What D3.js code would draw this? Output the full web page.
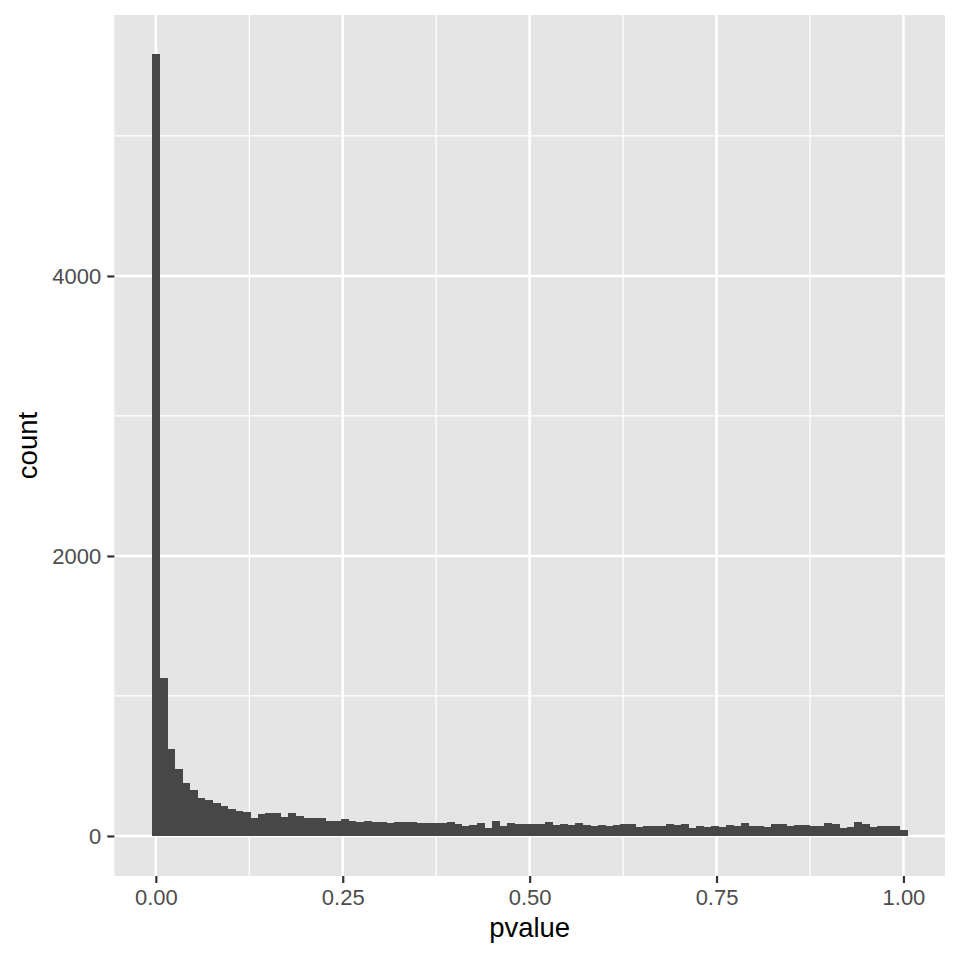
<!DOCTYPE html>
<html>
<head>
<meta charset="utf-8">
<script src="https://cdn.jsdelivr.net/npm/d3@7"></script>
<style>
  body { margin: 0; background: #fff; }
  svg { display: block; }
</style>
</head>
<body>
<svg id="chart" width="960" height="960"></svg>
<script>
// histogram counts, 100 bins of width 1/99 centred on 0 .. 1
const counts = [
  5586, 1129, 621, 479, 379, 329, 271, 257, 236, 214,
  193, 179, 171, 129, 157, 164, 164, 136, 164, 143,
  129, 129, 129, 107, 107, 121, 107, 100, 107, 100,
  100, 93, 100, 100, 100, 93, 93, 93, 93, 100,
  86, 71, 79, 93, 57, 107, 71, 93, 86, 86,
  86, 86, 100, 79, 86, 79, 93, 79, 71, 79,
  71, 79, 86, 86, 64, 71, 71, 71, 86, 79,
  86, 57, 71, 64, 71, 64, 79, 71, 93, 71,
  71, 64, 86, 86, 71, 79, 79, 71, 71, 93,
  86, 57, 64, 100, 86, 64, 71, 71, 71, 43
];
const binWidth = 1 / 99;
const xTicks = [0, 0.25, 0.5, 0.75, 1];
const xMinor = [0.125, 0.375, 0.625, 0.875];
const yTicks = [0, 2000, 4000];
const yMinor = [1000, 3000, 5000];
const xLabel = "pvalue";
const yLabel = "count";

const panel = { left: 114.3, right: 945, top: 15, bottom: 876 };

const svg = d3.select("#chart");

const x = d3.scaleLinear()
    .domain([-0.0556, 1.0556])
    .range([panel.left, panel.right]);

const y = d3.scaleLinear()
    .domain([-286, 5864])
    .range([panel.bottom, panel.top]);

svg.append("rect")
    .attr("x", panel.left)
    .attr("y", panel.top)
    .attr("width", panel.right - panel.left)
    .attr("height", panel.bottom - panel.top)
    .attr("fill", "#e5e5e5");

const grid = svg.append("g").attr("stroke", "#fff");

grid.selectAll(".xminor").data(xMinor).join("line")
    .attr("x1", d => x(d)).attr("x2", d => x(d))
    .attr("y1", panel.top).attr("y2", panel.bottom)
    .attr("stroke-width", 1.3);
grid.selectAll(".yminor").data(yMinor).join("line")
    .attr("y1", d => y(d)).attr("y2", d => y(d))
    .attr("x1", panel.left).attr("x2", panel.right)
    .attr("stroke-width", 1.3);
grid.selectAll(".xmajor").data(xTicks).join("line")
    .attr("x1", d => x(d)).attr("x2", d => x(d))
    .attr("y1", panel.top).attr("y2", panel.bottom)
    .attr("stroke-width", 2.6);
grid.selectAll(".ymajor").data(yTicks).join("line")
    .attr("y1", d => y(d)).attr("y2", d => y(d))
    .attr("x1", panel.left).attr("x2", panel.right)
    .attr("stroke-width", 2.6);

// bars share edges, so crisp edges avoids the light seams between them
svg.append("g")
    .attr("fill", "#474747")
    .attr("shape-rendering", "crispEdges")
    .selectAll("rect")
    .data(counts)
    .join("rect")
    .attr("x", (d, i) => x(i * binWidth - binWidth / 2))
    .attr("width", (d, i) => x(i * binWidth + binWidth / 2) - x(i * binWidth - binWidth / 2) + 0.5)
    .attr("y", d => y(d))
    .attr("height", d => y(0) - y(d));

const font = "'Liberation Sans', Arial, Helvetica, sans-serif";

const xAxis = svg.append("g")
    .attr("transform", `translate(0,${panel.bottom})`)
    .call(d3.axisBottom(x).tickValues(xTicks).tickFormat(d3.format(".2f"))
        .tickSize(7).tickPadding(6).tickSizeOuter(0));
xAxis.select(".domain").remove();

const yAxis = svg.append("g")
    .attr("transform", `translate(${panel.left},0)`)
    .call(d3.axisLeft(y).tickValues(yTicks).tickFormat(d3.format("d"))
        .tickSize(7).tickPadding(6).tickSizeOuter(0));
yAxis.select(".domain").remove();

svg.selectAll(".tick line").attr("stroke", "#333").attr("stroke-width", 2.2);
svg.selectAll(".tick text")
    .attr("fill", "#4d4d4d")
    .style("font-family", font)
    .style("font-size", "22px");

svg.append("text")
    .attr("x", (panel.left + panel.right) / 2)
    .attr("y", 937)
    .attr("text-anchor", "middle")
    .style("font-family", font)
    .style("font-size", "27.5px")
    .text(xLabel);

svg.append("text")
    .attr("transform", `translate(37,${(panel.top + panel.bottom) / 2}) rotate(-90)`)
    .attr("text-anchor", "middle")
    .style("font-family", font)
    .style("font-size", "27.5px")
    .text(yLabel);
</script>
</body>
</html>
